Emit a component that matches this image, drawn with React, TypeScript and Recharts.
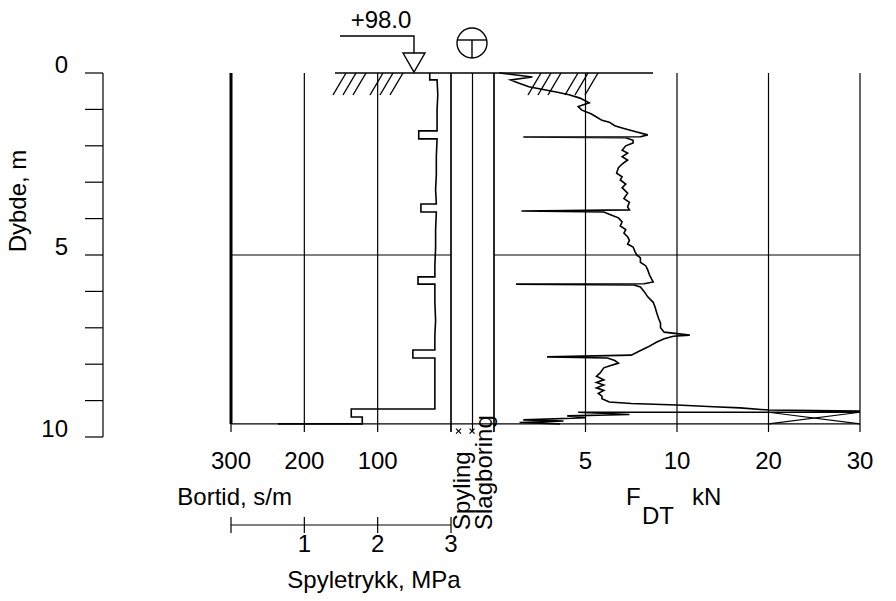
import React from "react";
import {
  ComposedChart,
  Line,
  XAxis,
  YAxis,
  ReferenceLine,
  ReferenceDot,
} from "recharts";

const W = 896;
const H = 601;
const FONT = "'Liberation Sans', Arial, sans-serif";
const FS = 24;
const INK = "#000";

// depth scale: 0 m at the ground line, 10 m at the bottom of the axis
const TOP = 73;
const BOTTOM = 437;
const AXH = 30;

const depthTicks = [0, 1, 2, 3, 4, 5, 6, 7, 8, 9, 10];
const endDepth = 9.64;
const gridEnd = 9.86;
const midDepth = 5;

const bortidTicks = [0, 100, 200, 300];
const pressureTicks = [0, 1, 2, 3];
const fdtTicks = [0, 5, 10, 20, 30];
const columns = ["Spyling", "Slagboring"];

const bortidDepth = [0, 0.19, 0.19, 0.6, 1.0, 1.4, 1.59, 1.59, 1.81, 1.81, 2.3, 2.8, 3.2, 3.6, 3.6, 3.82, 3.82, 4.3, 4.8, 5.3, 5.6, 5.6, 5.8, 5.8, 6.3, 6.8, 7.2, 7.61, 7.61, 7.83, 7.83, 8.4, 8.9, 9.23, 9.23, 9.45, 9.45, 9.64, 9.64];
const bortidValue = [29, 29, 19, 18, 19, 19, 19, 44, 44, 19, 20, 20, 21, 20, 41, 41, 20, 21, 21, 22, 22, 45, 45, 22, 22, 21, 22, 22, 52, 52, 22, 22, 22, 22, 136, 136, 121, 121, 236];

const pressureDepth = [0, 9.64];
const pressureValue = [0, 0];

const fdtDepth = [0, 0.11, 0.19, 0.27, 0.38, 0.52, 0.6, 0.69, 0.82, 0.92, 1.02, 1.12, 1.21, 1.3, 1.35, 1.45, 1.51, 1.58, 1.62, 1.7, 1.75, 1.76, 1.78, 1.85, 1.92, 2.0, 2.12, 2.2, 2.3, 2.39, 2.5, 2.6, 2.75, 2.85, 2.94, 3.05, 3.15, 3.3, 3.45, 3.55, 3.68, 3.76, 3.79, 3.82, 3.9, 3.98, 4.09, 4.2, 4.3, 4.4, 4.5, 4.6, 4.7, 4.78, 4.9, 5.0, 5.08, 5.2, 5.3, 5.41, 5.55, 5.65, 5.74, 5.79, 5.8, 5.82, 5.88, 6.0, 6.15, 6.3, 6.43, 6.6, 6.75, 6.87, 7.0, 7.12, 7.16, 7.2, 7.23, 7.3, 7.39, 7.53, 7.65, 7.75, 7.8, 7.83, 7.9, 7.97, 8.05, 8.1, 8.24, 8.33, 8.43, 8.5, 8.57, 8.65, 8.72, 8.8, 8.88, 8.95, 9.04, 9.08, 9.12, 9.17, 9.2, 9.26, 9.29, 9.32, 9.32, 9.38, 9.42, 9.47, 9.53, 9.56, 9.6, 9.64];
const fdtValue = [0.3, 2.1, 0.9, 1.3, 1.9, 3.4, 4.1, 4.7, 5.2, 4.6, 4.8, 5.3, 5.6, 5.9, 6.3, 6.6, 7.0, 7.5, 7.8, 8.4, 8.0, 1.6, 7.2, 7.6, 7.6, 7.2, 7.0, 7.3, 7.0, 7.3, 7.0, 6.8, 6.7, 7.0, 6.9, 7.2, 7.0, 7.3, 7.1, 7.4, 7.3, 7.4, 1.5, 6.0, 6.4, 6.8, 7.0, 6.9, 7.2, 7.1, 7.3, 7.4, 7.3, 7.6, 7.7, 7.8, 8.0, 8.0, 8.3, 8.4, 8.5, 8.6, 8.7, 8.2, 1.2, 7.6, 8.0, 8.2, 8.4, 8.7, 8.8, 8.9, 9.0, 9.1, 9.1, 9.3, 10.0, 11.4, 9.8, 9.3, 8.9, 8.4, 7.9, 7.5, 2.9, 6.2, 6.6, 6.8, 6.3, 6.0, 5.8, 5.6, 6.0, 5.6, 6.0, 5.6, 6.0, 5.7, 5.9, 5.9, 6.3, 7.5, 10.0, 14.0, 16.9, 20, 30, 30, 4.6, 7.4, 4.0, 5.0, 1.6, 3.8, 1.4, 3.6];

// F_DT beyond the 30 kN scale (drawn as a crossed box)
const offScaleDepth = [9.32, 9.64];
// flushing marks under the columns
const flushMarks = [0.35, 0.98];

// F axis: 0-10 kN linear, 10-30 kN at half scale
const fScale = (v: number) => (v <= 10 ? v : 10 + (v - 10) / 2);
const fUnscale = (u: number) => (u <= 10 ? u : 10 + (u - 10) * 2);

const bortidData = bortidDepth.map((d, i) => ({ depth: d, value: bortidValue[i] }));
const pressureData = pressureDepth.map((d, i) => ({ depth: d, value: pressureValue[i] }));
const fdtData = fdtDepth.map((d, i) => ({ depth: d, value: fScale(Math.min(fdtValue[i], 30)) }));

const layer: React.CSSProperties = { position: "absolute", left: 0, top: 0 };
const txt = { fontFamily: FONT, fontSize: FS, fill: INK };

const DepthTick = (p: any) => {
  const v = p.payload.value;
  if (v % 5 !== 0) return <g />;
  return (
    <text x={68} y={p.y} textAnchor="end" {...txt}>
      {v}
    </text>
  );
};

const BottomTick = (p: any) => {
  const v = p.payload.value;
  if (v === 0) return <g />;
  return (
    <text x={p.x} y={BOTTOM + 32} textAnchor="middle" {...txt}>
      {v}
    </text>
  );
};

const FTick = (p: any) => {
  const v = fUnscale(p.payload.value);
  if (v === 0) return <g />;
  return (
    <text x={p.x} y={BOTTOM + 32} textAnchor="middle" {...txt}>
      {v}
    </text>
  );
};

const PressureTick = (p: any) => {
  const v = p.payload.value;
  const axisY = 525;
  return (
    <g>
      <line x1={p.x} x2={p.x} y1={axisY - 8} y2={axisY + 8} stroke={INK} strokeWidth={1.2} />
      {v !== 0 && (
        <text x={p.x} y={axisY + 27} textAnchor="middle" {...txt}>
          {v}
        </text>
      )}
    </g>
  );
};

const ColumnTick = (p: any) => {
  const label = columns[Math.floor(p.payload.value)];
  const y0 = 530;
  return (
    <text
      x={p.x}
      y={y0}
      transform={`rotate(-90 ${p.x} ${y0})`}
      textAnchor="start"
      dominantBaseline="central"
      {...txt}
    >
      {label}
    </text>
  );
};

const Cross = (p: any) => (
  <g stroke={INK} strokeWidth={1.2}>
    <line x1={p.cx - 2.5} y1={p.cy - 2.5} x2={p.cx + 2.5} y2={p.cy + 2.5} />
    <line x1={p.cx - 2.5} y1={p.cy + 2.5} x2={p.cx + 2.5} y2={p.cy - 2.5} />
  </g>
);

const grid = { stroke: INK, strokeWidth: 1.2 };

export default function App() {
  return (
    <div style={{ position: "absolute", left: 0, top: 0, width: W, height: H, background: "#fff" }}>
      {/* depth axis */}
      <div style={layer}>
        <ComposedChart
          width={W}
          height={H}
          layout="vertical"
          data={bortidData}
          margin={{ top: TOP, bottom: H - BOTTOM, left: 0, right: W - 140 }}
        >
          <XAxis type="number" dataKey="value" domain={[0, 1]} hide />
          <YAxis
            type="number"
            dataKey="depth"
            domain={[0, 10]}
            ticks={depthTicks}
            interval={0}
            width={103}
            tickSize={18}
            axisLine={{ stroke: INK, strokeWidth: 1.2 }}
            tickLine={{ stroke: INK, strokeWidth: 1.2 }}
            tick={DepthTick}
          />
        </ComposedChart>
      </div>

      {/* bortid + spyletrykk panel */}
      <div style={layer}>
        <ComposedChart
          width={W}
          height={H}
          layout="vertical"
          data={bortidData}
          margin={{ top: TOP, bottom: H - BOTTOM - AXH, left: 231, right: W - 451 }}
        >
          <XAxis
            xAxisId="b"
            type="number"
            dataKey="value"
            domain={[0, 300]}
            reversed
            ticks={bortidTicks}
            interval={0}
            height={AXH}
            axisLine={false}
            tickLine={false}
            tick={BottomTick}
            allowDataOverflow
          />
          <XAxis xAxisId="p" type="number" dataKey="value" domain={[0, 3]} hide />
          <YAxis type="number" dataKey="depth" domain={[0, 10]} hide />
          {bortidTicks.map((v) => (
            <ReferenceLine
              key={v}
              xAxisId="b"
              segment={[{ x: v, y: 0 }, { x: v, y: gridEnd }]}
              {...grid}
            />
          ))}
          <ReferenceLine xAxisId="b" segment={[{ x: 0, y: midDepth }, { x: 300, y: midDepth }]} {...grid} />
          <ReferenceLine xAxisId="b" segment={[{ x: 0, y: endDepth }, { x: 300, y: endDepth }]} {...grid} />
          <Line
            xAxisId="p"
            data={pressureData}
            dataKey="value"
            stroke={INK}
            strokeWidth={3}
            dot={false}
            isAnimationActive={false}
          />
          <Line
            xAxisId="b"
            dataKey="value"
            stroke={INK}
            strokeWidth={1.6}
            dot={false}
            isAnimationActive={false}
          />
        </ComposedChart>
      </div>

      {/* spyletrykk axis */}
      <div style={layer}>
        <ComposedChart
          width={W}
          height={H}
          layout="vertical"
          data={pressureData}
          margin={{ top: TOP, bottom: H - 525 - 40, left: 231, right: W - 451 }}
        >
          <XAxis
            type="number"
            dataKey="value"
            domain={[0, 3]}
            ticks={pressureTicks}
            interval={0}
            height={40}
            tickSize={0}
            tickMargin={0}
            tickLine={false}
            axisLine={{ stroke: INK, strokeWidth: 1.2 }}
            tick={PressureTick}
          />
          <YAxis type="number" dataKey="depth" domain={[0, 10]} hide />
          <Line dataKey="value" stroke="none" dot={false} isAnimationActive={false} />
        </ComposedChart>
      </div>

      {/* spyling / slagboring columns */}
      <div style={layer}>
        <ComposedChart
          width={W}
          height={H}
          layout="vertical"
          data={pressureData}
          margin={{ top: TOP, bottom: H - BOTTOM - AXH, left: 451, right: W - 494 }}
        >
          <XAxis
            type="number"
            dataKey="value"
            domain={[0, 2]}
            ticks={[0.5, 1.5]}
            interval={0}
            height={AXH}
            axisLine={false}
            tickLine={false}
            tick={ColumnTick}
          />
          <YAxis type="number" dataKey="depth" domain={[0, 10]} hide />
          {[0, 1, 2].map((v) => (
            <ReferenceLine key={v} segment={[{ x: v, y: 0 }, { x: v, y: gridEnd }]} {...grid} />
          ))}
          <ReferenceLine segment={[{ x: 0, y: endDepth }, { x: 2, y: endDepth }]} {...grid} />
          {flushMarks.map((v) => (
            <ReferenceDot key={v} x={v} y={gridEnd - 0.02} r={3} shape={Cross} />
          ))}
          <Line dataKey="value" stroke="none" dot={false} isAnimationActive={false} />
        </ComposedChart>
      </div>

      {/* F_DT panel */}
      <div style={layer}>
        <ComposedChart
          width={W}
          height={H}
          layout="vertical"
          data={fdtData}
          margin={{ top: TOP, bottom: H - BOTTOM - AXH, left: 494, right: W - 860 }}
        >
          <XAxis
            type="number"
            dataKey="value"
            domain={[0, 20]}
            ticks={fdtTicks.map(fScale)}
            interval={0}
            height={AXH}
            axisLine={false}
            tickLine={false}
            tick={FTick}
            allowDataOverflow
          />
          <YAxis type="number" dataKey="depth" domain={[0, 10]} hide />
          {fdtTicks.map((v) => (
            <ReferenceLine
              key={v}
              segment={[{ x: fScale(v), y: 0 }, { x: fScale(v), y: gridEnd }]}
              {...grid}
            />
          ))}
          <ReferenceLine segment={[{ x: 0, y: midDepth }, { x: 20, y: midDepth }]} {...grid} />
          <ReferenceLine segment={[{ x: 0, y: endDepth }, { x: 20, y: endDepth }]} {...grid} />
          <ReferenceLine
            segment={[{ x: fScale(20), y: offScaleDepth[0] }, { x: fScale(30), y: offScaleDepth[1] }]}
            {...grid}
          />
          <ReferenceLine
            segment={[{ x: fScale(20), y: offScaleDepth[1] }, { x: fScale(30), y: offScaleDepth[0] }]}
            {...grid}
          />
          <Line
            dataKey="value"
            stroke={INK}
            strokeWidth={1.6}
            dot={false}
            isAnimationActive={false}
          />
        </ComposedChart>
      </div>

      {/* symbols and titles */}
      <svg width={W} height={H} style={{ ...layer, pointerEvents: "none" }}>
        <line x1={335} y1={TOP} x2={653} y2={TOP} stroke={INK} strokeWidth={1.6} />
        {[333, 343, 353, 370, 380, 390, 528, 538, 548, 565, 575, 585].map((x) => (
          <line key={x} x1={x} y1={95} x2={x + 13} y2={TOP} stroke={INK} strokeWidth={1.4} />
        ))}
        <polyline points="340,36 414,36 414,53" fill="none" stroke={INK} strokeWidth={1.4} />
        <polygon points="403,53 425,53 414,72" fill="#fff" stroke={INK} strokeWidth={1.4} />
        <text x={381} y={28} textAnchor="middle" {...txt}>
          +98.0
        </text>
        <circle cx={472} cy={43} r={15} fill="none" stroke={INK} strokeWidth={1.4} />
        <line x1={457.3} y1={40} x2={486.7} y2={40} stroke={INK} strokeWidth={1.4} />
        <line x1={472} y1={40} x2={472} y2={58} stroke={INK} strokeWidth={1.4} />
        <text x={26} y={201} transform="rotate(-90 26 201)" textAnchor="middle" {...txt}>
          Dybde, m
        </text>
        <text x={292} y={505} textAnchor="end" {...txt}>
          Bortid, s/m
        </text>
        <text x={626} y={505} {...txt}>
          F
        </text>
        <text x={642} y={524} {...txt}>
          DT
        </text>
        <text x={692} y={505} {...txt}>
          kN
        </text>
        <text x={374} y={588} textAnchor="middle" {...txt}>
          Spyletrykk, MPa
        </text>
      </svg>
    </div>
  );
}
